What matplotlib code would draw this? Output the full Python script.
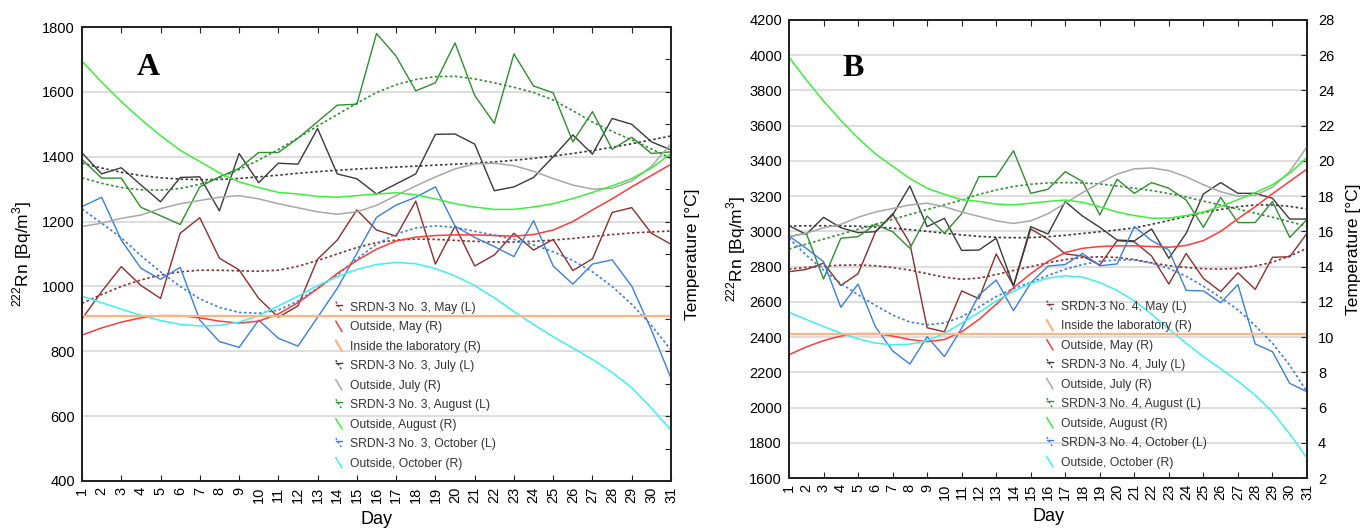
import matplotlib
matplotlib.use("Agg")
import matplotlib.pyplot as plt
from matplotlib.lines import Line2D
from matplotlib.legend_handler import HandlerBase

plt.rcParams["font.family"] = ["Liberation Sans", "DejaVu Sans"]
plt.rcParams["mathtext.fontset"] = "custom"
plt.rcParams["mathtext.rm"] = "Liberation Sans"

DAYS = list(range(1, 32))

# outside / laboratory temperature [°C] (same in both panels, right axis)
t_may = [9.0, 9.44, 9.8, 10.06, 10.2, 10.2, 10.06, 9.86, 9.74, 9.86, 10.3, 11.0, 11.86, 12.8, 13.6, 14.3,
         14.8, 15.04, 15.14, 15.18, 15.18, 15.14, 15.1, 15.2, 15.48, 16.0, 16.72, 17.4, 18.14, 18.84, 19.54]
t_jul = [15.7, 15.9, 16.2, 16.4, 16.8, 17.1, 17.3, 17.5, 17.6, 17.4, 17.1, 16.85, 16.6, 16.45, 16.6, 17.0,
         17.6, 18.2, 18.75, 19.25, 19.55, 19.6, 19.45, 19.1, 18.65, 18.25, 18.0, 18.05, 18.5, 19.4, 20.8]
t_aug = [25.9, 24.6, 23.4, 22.3, 21.3, 20.4, 19.7, 19.0, 18.45, 18.1, 17.8, 17.7, 17.55, 17.5, 17.6, 17.7,
         17.78, 17.65, 17.4, 17.1, 16.9, 16.75, 16.75, 16.9, 17.1, 17.42, 17.8, 18.2, 18.65, 19.3, 20.2]
t_oct = [11.4, 11.0, 10.6, 10.22, 9.9, 9.66, 9.56, 9.6, 9.8, 10.2, 10.8, 11.4, 12.05, 12.6, 13.05, 13.35,
         13.48, 13.4, 13.1, 12.65, 12.05, 11.3, 10.45, 9.65, 8.9, 8.2, 7.5, 6.7, 5.75, 4.5, 3.13]
t_lab = 10.2

# panel A: SRDN-3 No. 3, 222Rn [Bq/m3] (measured + trend)
rn_a_may = [900, 984, 1061, 1003, 963, 1164, 1212, 1087, 1051, 963, 905, 940, 1084, 1143, 1236, 1174,
            1155, 1263, 1069, 1186, 1063, 1097, 1164, 1112, 1145, 1049, 1085, 1228, 1243, 1164, 1130]
fit_a_may = [948, 975, 1000, 1020, 1035, 1045, 1050, 1050, 1048, 1047, 1050, 1062, 1080, 1100, 1120, 1135,
             1143, 1146, 1145, 1142, 1139, 1137, 1137, 1139, 1143, 1148, 1154, 1160, 1165, 1168, 1171]
rn_a_jul = [1412, 1347, 1366, 1313, 1261, 1336, 1338, 1233, 1410, 1320, 1380, 1377, 1487, 1347, 1332, 1285,
            1316, 1347, 1469, 1470, 1439, 1295, 1307, 1336, 1400, 1467, 1408, 1518, 1500, 1446, 1421]
fit_a_jul = [1380, 1365, 1352, 1342, 1335, 1331, 1329, 1330, 1333, 1338, 1343, 1349, 1354, 1358, 1362, 1365,
             1368, 1371, 1374, 1377, 1380, 1384, 1389, 1395, 1402, 1410, 1419, 1429, 1440, 1452, 1464]
rn_a_aug = [1392, 1334, 1334, 1244, 1218, 1191, 1307, 1338, 1364, 1413, 1413, 1457, 1508, 1559, 1562, 1780,
            1710, 1603, 1628, 1751, 1589, 1503, 1717, 1618, 1597, 1446, 1539, 1423, 1460, 1410, 1415]
fit_a_aug = [1335, 1318, 1305, 1298, 1297, 1302, 1315, 1335, 1360, 1390, 1422, 1458, 1495, 1530, 1565, 1598,
             1622, 1638, 1647, 1648, 1640, 1628, 1614, 1598, 1575, 1542, 1507, 1478, 1452, 1424, 1395]
rn_a_oct = [1246, 1275, 1143, 1056, 1022, 1059, 896, 830, 812, 896, 840, 816, 905, 994, 1102, 1213,
            1251, 1275, 1307, 1186, 1151, 1123, 1092, 1203, 1063, 1007, 1069, 1082, 1001, 866, 717]
fit_a_oct = [1239, 1195, 1150, 1095, 1045, 1000, 962, 935, 920, 917, 927, 955, 995, 1035, 1085, 1130,
             1162, 1180, 1187, 1182, 1170, 1158, 1145, 1128, 1107, 1080, 1045, 1000, 945, 880, 804]

# panel B: SRDN-3 No. 4
rn_b_may = [2771, 2784, 2820, 2693, 2760, 2995, 3100, 2932, 2453, 2430, 2662, 2618, 2872, 2690, 3014, 2955,
            2872, 2860, 2809, 2947, 2941, 2860, 2701, 2875, 2733, 2658, 2765, 2671, 2853, 2856, 2989]
fit_b_may = [2786, 2795, 2803, 2808, 2809, 2805, 2795, 2780, 2760, 2740, 2728, 2735, 2755, 2778, 2800, 2822,
             2840, 2852, 2856, 2852, 2840, 2822, 2805, 2795, 2788, 2786, 2790, 2803, 2825, 2860, 2904]
rn_b_jul = [3032, 2983, 3080, 3021, 2993, 2998, 3093, 3258, 3027, 3074, 2892, 2894, 2961, 2690, 3027, 2985,
            3169, 3087, 3023, 2951, 2946, 3014, 2847, 2989, 3212, 3277, 3216, 3216, 3188, 3070, 3070]
fit_b_jul = [3030, 3032, 3032, 3031, 3029, 3025, 3018, 3010, 3000, 2990, 2980, 2972, 2966, 2964, 2965, 2970,
             2978, 2988, 2998, 3008, 3020, 3040, 3062, 3085, 3107, 3125, 3140, 3150, 3150, 3142, 3127]
rn_b_aug = [2970, 2989, 2730, 2961, 2970, 3040, 2998, 2904, 3087, 2989, 3100, 3311, 3311, 3458, 3216, 3239,
            3339, 3283, 3093, 3296, 3216, 3277, 3245, 3178, 3023, 3193, 3050, 3050, 3170, 2966, 3068]
fit_b_aug = [2900, 2928, 2956, 2984, 3012, 3040, 3068, 3096, 3124, 3151, 3178, 3210, 3235, 3255, 3268, 3275,
             3277, 3275, 3269, 3258, 3245, 3232, 3215, 3195, 3172, 3150, 3127, 3103, 3080, 3055, 3029]
rn_b_oct = [2974, 2904, 2828, 2569, 2701, 2459, 2322, 2247, 2402, 2289, 2450, 2639, 2724, 2550, 2707, 2803,
            2812, 2875, 2805, 2815, 3027, 2948, 2894, 2665, 2662, 2595, 2698, 2361, 2317, 2137, 2090]
fit_b_oct = [2961, 2865, 2781, 2705, 2640, 2580, 2525, 2485, 2470, 2480, 2515, 2570, 2630, 2675, 2710, 2750,
             2785, 2812, 2830, 2838, 2838, 2820, 2790, 2745, 2689, 2625, 2554, 2465, 2365, 2240, 2090]

MONTHS = ["May", "July", "August", "October"]
C_SRDN = {"May": "#8b2f2f", "July": "#3a3a3a", "August": "#2e8f2e", "October": "#3a7fe0"}
C_OUT = {"May": "#ff3a3a", "July": "#a8a8a8", "August": "#3cef3c", "October": "#3ff0f0"}
C_LAB = "#ffb37e"
DOT = (0, (1.5, 1.5))


class SlashHandler(HandlerBase):
    """Statistica-like slanted legend keys."""
    def create_artists(self, legend, orig, xd, yd, w, h, fs, trans):
        kw = dict(color=orig.get_color(), lw=orig.get_linewidth())
        x0, x1 = -xd + 0.15 * w, -xd + 0.65 * w
        arts = []
        if orig.get_gid() == "srdn":
            arts.append(Line2D([x0, x1], [-yd + 0.75 * h] * 2, **kw))
            arts.append(Line2D([x0, x1], [-yd + 1.1 * h, -yd - 0.1 * h], ls=DOT, **kw))
        else:
            arts.append(Line2D([x0, x1], [-yd + 1.1 * h, -yd - 0.1 * h], **kw))
        for a in arts:
            a.set_transform(trans)
        return arts


def panel(fig, rect, rn, fits, det, ylim, tlim, tlabels, letter, letter_xy, lab_first, leg_xy, ypad):
    ax = fig.add_axes(rect)
    ax2 = ax.twinx()

    handles = {}
    for m in MONTHS:
        ax.plot(DAYS, rn[m], color=C_SRDN[m], lw=1.0)
        ax.plot(DAYS, fits[m], color=C_SRDN[m], lw=1.2, ls=DOT)
        handles["srdn_" + m] = Line2D([], [], color=C_SRDN[m], lw=1.0, gid="srdn")
    for m, t in zip(MONTHS, [t_may, t_jul, t_aug, t_oct]):
        ln, = ax2.plot(DAYS, t, color=C_OUT[m], lw=1.1)
        handles["out_" + m] = ln
    handles["lab"] = ax2.axhline(t_lab, color=C_LAB, lw=1.6)

    ax.set_xlim(1, 31)
    ax.set_ylim(*ylim)
    ax.set_yticks(range(ylim[0], ylim[1] + 1, 200))
    ax2.set_ylim(*tlim)
    ax2.set_yticks(range(tlim[0], tlim[1] + 1, 2))
    ax.grid(axis="y", color="#d4d4d4", lw=1.1)
    ax.set_axisbelow(True)

    odd = [d for d in DAYS if d % 2 == 1]
    even = [d for d in DAYS if d % 2 == 0]
    ax.set_xticks(odd, [str(d) for d in odd], rotation=90)
    ax.set_xticks(even, [str(d) for d in even], rotation=90, minor=True)
    ax.tick_params(axis="x", which="major", direction="in", length=4, top=True, labelsize=10.5,
                   pad=4, color="#222222")
    ax.tick_params(axis="x", which="minor", length=0, labelsize=10.5, pad=4)
    ax.tick_params(axis="y", length=0, labelsize=10.5, pad=5)
    ax2.tick_params(axis="y", direction="in", length=4, labelsize=10.5, labelright=tlabels,
                    pad=8, color="#222222")
    for a in (ax, ax2):
        for s in a.spines.values():
            s.set_linewidth(1.3)
            s.set_color("#222222")

    ax.set_xlabel("Day", fontsize=13, labelpad=6)
    ax.set_ylabel(r"$^{222}$Rn [Bq/m$^{3}$]", fontsize=12.5, labelpad=ypad)
    ax2.set_ylabel("Temperature [°C]", fontsize=12.5, labelpad=10 if not tlabels else 8)

    ax.text(*letter_xy, letter, transform=ax.transAxes, fontsize=23, fontweight="bold",
            family="Liberation Serif", ha="center", va="center")

    order = ["srdn_May"]
    labels = [f"SRDN-3 No. {det}, May (L)"]
    if lab_first:
        order += ["lab", "out_May"]
        labels += ["Inside the laboratory (R)", "Outside, May (R)"]
    else:
        order += ["out_May", "lab"]
        labels += ["Outside, May (R)", "Inside the laboratory (R)"]
    for m in MONTHS[1:]:
        order += ["srdn_" + m, "out_" + m]
        labels += [f"SRDN-3 No. {det}, {m} (L)", f"Outside, {m} (R)"]
    leg = ax2.legend([handles[k] for k in order], labels, loc="upper left",
                     bbox_to_anchor=leg_xy, bbox_transform=fig.transFigure, frameon=False,
                     fontsize=8.7, handlelength=1.0, handletextpad=0.3, labelspacing=0.62,
                     borderpad=0, borderaxespad=0, handler_map={Line2D: SlashHandler()})
    for t in leg.get_texts():
        t.set_color("#333333")
    return ax, ax2


W, H = 1361, 528
fig = plt.figure(figsize=(W / 100, H / 100), dpi=100)

panel(fig, [82 / W, 1 - 481 / H, 589 / W, 454 / H],
      {"May": rn_a_may, "July": rn_a_jul, "August": rn_a_aug, "October": rn_a_oct},
      {"May": fit_a_may, "July": fit_a_jul, "August": fit_a_aug, "October": fit_a_oct},
      3, (400, 1800), (0, 28), False, "A", (0.112, 0.91), False, (334 / W, 1 - 302 / H), 6)

panel(fig, [789 / W, 1 - 478 / H, 518 / W, 458 / H],
      {"May": rn_b_may, "July": rn_b_jul, "August": rn_b_aug, "October": rn_b_oct},
      {"May": fit_b_may, "July": fit_b_jul, "August": fit_b_aug, "October": fit_b_oct},
      4, (1600, 4200), (2, 28), True, "B", (0.124, 0.895), True, (1045 / W, 1 - 301 / H), 1)

fig.savefig("out.png", dpi=100)
